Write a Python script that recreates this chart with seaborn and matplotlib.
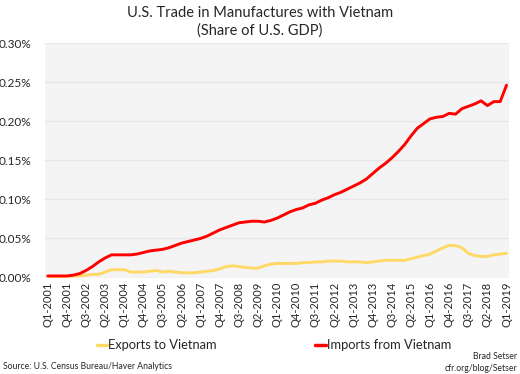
import numpy as np
import pandas as pd
import matplotlib
matplotlib.use('Agg')
import matplotlib.pyplot as plt
import seaborn as sns
from matplotlib.ticker import FuncFormatter
from matplotlib.lines import Line2D

# Quarterly labels Q1-2001 .. Q1-2019
quarters = [f'Q{q}-{y}' for y in range(2001, 2020) for q in range(1, 5)][:73]

# Share of U.S. GDP, in percent
imports = [0.002, 0.002, 0.002, 0.002, 0.003, 0.005, 0.009, 0.014, 0.020, 0.025,
           0.029, 0.029, 0.029, 0.029, 0.030, 0.032, 0.034, 0.035, 0.036, 0.038,
           0.041, 0.044, 0.046, 0.048, 0.050, 0.053, 0.057, 0.061, 0.064, 0.067,
           0.070, 0.071, 0.072, 0.072, 0.071, 0.073, 0.076, 0.080, 0.084, 0.087,
           0.089, 0.093, 0.095, 0.099, 0.102, 0.106, 0.109, 0.113, 0.117, 0.121,
           0.126, 0.133, 0.140, 0.146, 0.153, 0.161, 0.170, 0.181, 0.191, 0.197,
           0.203, 0.205, 0.206, 0.210, 0.209, 0.216, 0.219, 0.222, 0.226, 0.220,
           0.225, 0.225, 0.246]
exports = [0.001, 0.001, 0.001, 0.001, 0.002, 0.002, 0.003, 0.004, 0.004, 0.007,
           0.010, 0.010, 0.010, 0.007, 0.007, 0.007, 0.008, 0.009, 0.007, 0.008,
           0.007, 0.006, 0.006, 0.006, 0.007, 0.008, 0.009, 0.011, 0.014, 0.015,
           0.014, 0.013, 0.012, 0.012, 0.015, 0.017, 0.018, 0.018, 0.018, 0.018,
           0.019, 0.019, 0.020, 0.020, 0.021, 0.021, 0.021, 0.020, 0.020, 0.020,
           0.019, 0.020, 0.021, 0.022, 0.022, 0.022, 0.022, 0.024, 0.026, 0.028,
           0.030, 0.034, 0.038, 0.041, 0.041, 0.038, 0.031, 0.028, 0.027, 0.027,
           0.029, 0.030, 0.031]

df = pd.DataFrame({'idx': np.arange(len(quarters)),
                   'Exports to Vietnam': exports,
                   'Imports from Vietnam': imports})
long = df.melt(id_vars='idx', var_name='series', value_name='share')

sns.set_style('white')
plt.rcParams['font.family'] = ['Lato', 'DejaVu Sans']

fig = plt.figure(figsize=(5.2, 3.74), dpi=100)
ax = fig.add_axes([0.087, 0.258, 0.892, 0.627])
ax.set_facecolor('#f4f4f4')

# the two series
sns.lineplot(data=long, x='idx', y='share', hue='series',
             palette={'Exports to Vietnam': '#ffd966', 'Imports from Vietnam': '#ff0000'},
             linewidth=2.1, ax=ax, legend=False)

ax.set_xlim(-0.4, len(quarters) - 0.6)
ax.set_ylim(0, 0.30)
ax.set_yticks(np.arange(0, 0.31, 0.05))
ax.yaxis.set_major_formatter(FuncFormatter(lambda v, p: f'{v:.2f}%'))
ax.set_xticks(np.arange(0, len(quarters), 3))
ax.set_xticklabels(quarters[::3], rotation=90, fontsize=8)
ax.tick_params(axis='y', labelsize=8.5, length=0, pad=10)
ax.tick_params(axis='x', length=0, pad=3)
ax.grid(axis='y', color='#e6e6e6', linewidth=1)
ax.set_axisbelow(True)
for s in ax.spines.values():
    s.set_visible(False)
ax.set_xlabel('')
ax.set_ylabel('')

fig.text(0.5, 0.965, 'U.S. Trade in Manufactures with Vietnam', ha='center', va='center', fontsize=10.5)
fig.text(0.5, 0.918, '(Share of U.S. GDP)', ha='center', va='center', fontsize=10.5)

# legend
handles = [Line2D([], [], color='#ffd966', linewidth=2.5),
           Line2D([], [], color='#ff0000', linewidth=2.5)]
fig.legend(handles, ['Exports to Vietnam', 'Imports from Vietnam'], loc='center',
           bbox_to_anchor=(0.527, 0.077), ncol=2, frameon=False, fontsize=9.3,
           handlelength=0.8, handletextpad=0.1, columnspacing=7.6)

fig.text(0.005, 0.021, 'Source: U.S. Census Bureau/Haver Analytics', fontsize=6.2, va='center')
fig.text(0.995, 0.046, 'Brad Setser', fontsize=6.2, ha='right', va='center')
fig.text(0.995, 0.016, 'cfr.org/blog/Setser', fontsize=6.2, ha='right', va='center')

fig.savefig('out.png', dpi=100)
